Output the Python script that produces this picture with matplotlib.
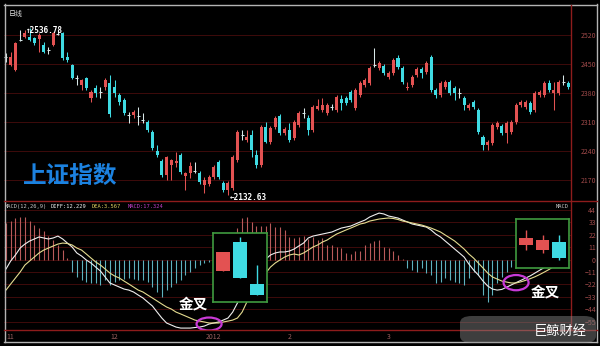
import numpy as np
import matplotlib
matplotlib.use("Agg")
import matplotlib.pyplot as plt
from matplotlib.patches import Ellipse, FancyBboxPatch
from matplotlib.lines import Line2D

plt.rcParams['font.family'] = ['Noto Sans CJK SC', 'DejaVu Sans']

# -----------------------------
# daily candles (Shanghai Composite, Nov 2011 - Apr 2012)
# -----------------------------
opens = [2467, 2448, 2436, 2508, 2515, 2515, 2513, 2510, 2496, 2484,
         2496, 2523, 2525, 2467, 2448, 2416, 2399, 2416, 2368, 2392,
         2382, 2394, 2404, 2394, 2375, 2363, 2327, 2327, 2325, 2315,
         2310, 2286, 2240, 2216, 2182, 2206, 2211, 2230, 2180, 2187,
         2192, 2187, 2158, 2160, 2177, 2213, 2163, 2146, 2151, 2218,
         2279, 2267, 2279, 2230, 2206, 2298, 2262, 2298, 2324, 2283,
         2291, 2271, 2303, 2332, 2320, 2291, 2341, 2339, 2332, 2346,
         2339, 2365, 2368, 2382, 2344, 2375, 2399, 2404, 2448, 2440,
         2445, 2419, 2428, 2464, 2440, 2392, 2399, 2423, 2438, 2431,
         2467, 2387, 2375, 2394, 2407, 2392, 2380, 2368, 2344, 2358,
         2339, 2274, 2254, 2259, 2298, 2300, 2283, 2286, 2310, 2351,
         2346, 2356, 2339, 2375, 2375, 2404, 2380, 2380, 2407, 2404]
closes = [2467, 2467, 2501, 2508, 2525, 2508, 2501, 2520, 2479, 2484,
          2525, 2523, 2464, 2460, 2416, 2416, 2411, 2392, 2382, 2380,
          2382, 2411, 2330, 2380, 2358, 2332, 2327, 2334, 2325, 2315,
          2291, 2247, 2230, 2182, 2226, 2218, 2216, 2189, 2187, 2204,
          2192, 2165, 2170, 2177, 2201, 2177, 2146, 2163, 2226, 2286,
          2279, 2274, 2242, 2206, 2298, 2262, 2295, 2320, 2283, 2293,
          2267, 2310, 2332, 2332, 2291, 2346, 2349, 2351, 2351, 2346,
          2370, 2356, 2356, 2363, 2387, 2404, 2411, 2440, 2448, 2452,
          2428, 2428, 2460, 2443, 2407, 2394, 2419, 2438, 2428, 2452,
          2387, 2375, 2404, 2407, 2380, 2380, 2380, 2351, 2351, 2346,
          2286, 2254, 2262, 2303, 2308, 2283, 2308, 2310, 2351, 2358,
          2358, 2334, 2380, 2382, 2404, 2387, 2387, 2407, 2407, 2394]
highs = [2477, 2479, 2503, 2532, 2532, 2536.78, 2515, 2525, 2503, 2491,
         2527, 2532, 2527, 2479, 2450, 2423, 2413, 2419, 2387, 2399,
         2394, 2416, 2423, 2411, 2380, 2368, 2334, 2339, 2346, 2332,
         2315, 2291, 2254, 2221, 2228, 2220, 2238, 2235, 2189, 2213,
         2213, 2192, 2177, 2182, 2206, 2218, 2168, 2168, 2230, 2291,
         2291, 2291, 2291, 2242, 2303, 2310, 2300, 2324, 2329, 2298,
         2308, 2315, 2337, 2344, 2327, 2351, 2365, 2368, 2356, 2353,
         2375, 2375, 2373, 2387, 2392, 2409, 2416, 2445, 2489, 2457,
         2450, 2433, 2464, 2472, 2445, 2407, 2423, 2443, 2443, 2457,
         2472, 2392, 2409, 2411, 2411, 2397, 2392, 2373, 2356, 2363,
         2344, 2279, 2267, 2308, 2312, 2305, 2312, 2315, 2356, 2363,
         2363, 2361, 2385, 2387, 2409, 2411, 2407, 2411, 2423, 2409]
lows = [2455, 2445, 2433, 2506, 2513, 2506, 2496, 2479, 2477, 2474,
        2494, 2520, 2460, 2455, 2414, 2399, 2387, 2387, 2358, 2370,
        2368, 2387, 2322, 2370, 2351, 2327, 2308, 2320, 2303, 2308,
        2286, 2242, 2226, 2177, 2170, 2170, 2201, 2184, 2146, 2175,
        2187, 2160, 2139, 2155, 2172, 2172, 2141, 2132.63, 2146, 2213,
        2267, 2262, 2226, 2199, 2201, 2259, 2257, 2293, 2279, 2279,
        2262, 2267, 2298, 2320, 2279, 2286, 2339, 2334, 2327, 2339,
        2334, 2339, 2351, 2358, 2339, 2370, 2394, 2399, 2443, 2436,
        2423, 2414, 2423, 2438, 2402, 2387, 2394, 2419, 2416, 2426,
        2382, 2368, 2370, 2390, 2375, 2363, 2368, 2339, 2339, 2341,
        2281, 2242, 2242, 2254, 2293, 2279, 2259, 2281, 2305, 2346,
        2341, 2329, 2334, 2370, 2370, 2382, 2339, 2375, 2399, 2390]

# MACD(12,26,9) panel
macd_hist = [32, 34, 36.5, 38, 38, 34, 31, 28, 25, 21, 17, 13, 8.4, 1,
             -11.1, -15.5, -18.2, -19.7, -20.8, -20.8, -22.6, -18.2, -22.6, -19.7,
             -18.2, -17.3, -16.4, -17.3, -18.2, -18.2, -19.7, -24.4, -28.8, -33.3,
             -27.1, -24.4, -20.8, -18.2, -13.7, -11.1, -7.5, -4.9, -3.1,
             -2.5, -1, 1, 3, 5, 9, 28, 37, 38, 33, 30, 30, 30,
             32.4, 28.8, 28.8, 26.2, 20, 19.1,
             20, 21, 18, 20, 17, 19, 13, 13, 11, 10, 6, 5, 8, 8, 13, 15, 16, 17,
             11, 10, 8, 4, 0.5,
             -7.5, -9.3, -11.1, -7.5, -12.0, -13.7, -20.8, -19.7, -16.4, -18.2,
             -20.0, -20.8, -22.6, -16.4, -11.1, -13.7, -31.5, -37.7, -31.5, -20.8,
             -15.5, -11.1, -6.7, -3.1,
             1, 3, 5, 7, 8, 9, 11, 12, 14, 16, 17.324]
diff = [-8.4, -1.3, 4.0, 10.2, 13.7, 16.4, 18.2, 20.0, 19.1, 18.2,
        19.1, 20.8, 18.2, 14.6, 11.1, 5.8, 3.1, -0.4, -3.1, -6.7,
        -10.2, -15.5, -20.8, -22.6, -24.4, -26.2, -27.1, -28.8, -31.5, -34.1,
        -37.7, -41.2, -46.6, -51.9, -56.3, -58.1, -59.9, -60.8, -60.8, -60.8,
        -60.3, -59.9, -59.0, -57.2, -56.3, -55.4, -53.7, -51.9, -46.6, -38.6,
        -30.6, -22.6, -15.5, -9.3, -4.0, 0.4, 4.0, 5.8, 6.7, 6.7,
        7.5, 9.3, 12.0, 14.6, 19.1, 20.8, 21.7, 22.6, 23.5, 24.4,
        26.2, 27.9, 28.8, 29.7, 31.5, 33.3, 35.0, 37.7, 39.5, 41.2,
        40.4, 38.6, 37.7, 36.8, 35.0, 33.3, 31.5, 30.6, 29.7, 28.8,
        26.2, 22.6, 20.0, 16.4, 12.9, 9.3, 5.8, 2.2, -4.0, -9.3,
        -13.7, -19.1, -23.5, -26.2, -27.1, -26.5, -24.5, -22.5, -20.5, -18.5,
        -16.5, -14.5, -12.0, -9.5, -7.0, -4.5, -1.0, 3.0, 8.0, 12.229]
dea = [-27.1, -21.7, -16.4, -11.1, -4.9, -1.3, 2.2, 5.8, 8.4, 10.2,
       12.0, 13.7, 14.6, 14.2, 12.9, 10.2, 8.4, 4.9, 1.3, -2.2,
       -4.9, -8.4, -12.0, -14.6, -16.4, -19.1, -21.7, -24.4, -27.1, -28.8,
       -31.5, -34.1, -36.8, -39.5, -42.1, -43.9, -46.6, -48.3, -50.1, -51.9,
       -53.7, -54.6, -55.4, -56.3, -56.3, -56.3, -55.4, -54.6, -53.7, -51.9,
       -46.6, -37.7, -29.7, -22.6, -17.3, -12.0, -6.7, -3.1, -0.4, 2.2,
       4.0, 4.9, 4.0, 5.8, 8.4, 11.1, 12.9, 15.5, 17.3, 20.0,
       22.6, 24.4, 26.2, 27.9, 29.7, 31.5, 32.4, 34.1, 35.0, 35.9,
       36.4, 36.8, 36.4, 35.5, 34.1, 33.3, 32.4, 31.5, 30.6, 29.3,
       27.9, 26.2, 24.4, 21.7, 19.1, 16.4, 12.9, 9.3, 4.9, 1.3,
       -3.1, -7.5, -12.0, -15.5, -17.3, -19.1, -20.0, -20.8, -20.8, -19.8,
       -18.5, -17.0, -15.3, -13.3, -11.1, -8.8, -6.0, -2.5, 0.8, 3.567]

golden_cross = [43, 108]          # candle index of the two crossings
price_ticks = [2170, 2240, 2310, 2380, 2450, 2520]
macd_ticks = [44, 33, 22, 11, 0, -11, -22, -33, -44, -55]
month_pos = [1, 23, 44, 60, 81]
month_lbl = ["11", "12", "2012", "2", "3"]

# the two illustrative candle groups in the green boxes (arbitrary scale 0-100)
box1_o = [45, 87, 26]
box1_c = [72.5, 35, 10]
box1_h = [72.5, 94, 54]
box1_l = [45, 35, 10]
box2_o = [47, 37, 53]
box2_c = [61, 57, 20]
box2_h = [77.5, 67, 67]
box2_l = [37, 31, 16]

# -----------------------------
# styling
# -----------------------------
RED = "#e35252"
CYAN = "#3fdbe3"
DOJI = "#d8e8e8"
GRID = "#3e0b0b"
SEP = "#8e1c1c"
TICK = "#a04a4a"
FRAME = "#b4b4b4"

W, H = 600, 346
def fx(x):
    return x / W
def fy(y):
    return 1 - y / H

XL = (-0.42, 119.63)
n = len(opens)
idx = np.arange(n)

fig = plt.figure(figsize=(6, 3.46), dpi=100, facecolor="black")


def draw_candles(a, o_, c_, h_, l_, bw=0.64, lw=0.75):
    for i in range(len(o_)):
        o, c, h, l = o_[i], c_[i], h_[i], l_[i]
        col = RED if c > o else (CYAN if c < o else DOJI)
        a.vlines(i, l, h, color=col, lw=lw)
        if c == o:
            a.hlines(o, i - bw / 2, i + bw / 2, color=col, lw=lw)
        else:
            a.bar(i, abs(c - o), bottom=min(o, c), width=bw, color=col, lw=0)


def style_axes(a, ticks, ylim):
    a.set_facecolor("black")
    a.set_xlim(*XL)
    a.set_ylim(*ylim)
    a.yaxis.tick_right()
    a.set_yticks(ticks)
    a.tick_params(axis="y", length=0, pad=18, labelsize=5.0, labelcolor=TICK)
    for lbl in a.get_yticklabels():
        lbl.set_ha("right")
    a.grid(axis="y", color=GRID, lw=0.7)
    a.set_axisbelow(True)
    for s in a.spines.values():
        s.set_visible(False)


# -----------------------------
# price panel
# -----------------------------
ax = fig.add_axes([fx(4), fy(201), fx(571) - fx(4), fy(5) - fy(201)])
style_axes(ax, price_ticks, (2119, 2592))
ax.set_xticks([])
draw_candles(ax, opens, closes, highs, lows)

hi_i = int(np.argmax(highs))
lo_i = int(np.argmin(lows))
ax.annotate(f"↑{highs[hi_i]:.2f}", (hi_i, highs[hi_i]), xytext=(-3, -2),
            textcoords="offset points", color="white", fontsize=5.6,
            family="DejaVu Sans Mono", fontweight="bold", ha="left", va="center")
ax.annotate(f"←{lows[lo_i]:.2f}", (lo_i, lows[lo_i]), xytext=(1.5, -1.2),
            textcoords="offset points", color="white", fontsize=5.6,
            family="DejaVu Sans Mono", fontweight="bold", ha="left", va="center")

ax.text(0.008, 0.975, "日线", transform=ax.transAxes, color="#e0e0e0",
        fontsize=5, va="top", ha="left")
ax.text(0.117, 0.13, "上证指数", transform=ax.transAxes, color="#1c82e0",
        fontsize=17, fontweight="heavy", ha="center", va="center")

# -----------------------------
# MACD panel
# -----------------------------
ax2 = fig.add_axes([fx(4), fy(330), fx(571) - fx(4), fy(201) - fy(330)])
style_axes(ax2, macd_ticks, (-62.5, 51.9))
hist_cols = ["#b85a5a" if v > 0 else "#5fb2be" for v in macd_hist]
ax2.vlines(idx, 0, macd_hist, colors=hist_cols, lw=0.8)
ax2.plot(idx, diff, color="#eeeeee", lw=0.8)
ax2.plot(idx, dea, color="#e4dc90", lw=0.8)

ax2.set_xticks(month_pos)
ax2.set_xticklabels(month_lbl)
ax2.tick_params(axis="x", length=0, pad=2.5, labelsize=5, labelcolor="#9a6060")

for k, ci in enumerate(golden_cross):
    ax2.add_patch(Ellipse((ci, diff[ci]), 5.3, 11.5 + 2 * k, fill=False,
                          ec="#c83ad6", lw=1.6, zorder=6))
ax2.annotate("金叉", (golden_cross[0], diff[golden_cross[0]]), xytext=(-11.5, 15),
             textcoords="offset points", color="white", fontsize=10.5,
             fontweight="bold", ha="center", va="center")
ax2.annotate("金叉", (golden_cross[1], diff[golden_cross[1]]), xytext=(21, -6.5),
             textcoords="offset points", color="white", fontsize=10.5,
             fontweight="bold", ha="center", va="center")

# header of MACD panel
hy = fy(206.5)
fig.text(fx(5), hy, "MACD(12,26,9)", color="#c8c8c8", fontsize=3.9,
         family="DejaVu Sans Mono", va="center")
fig.text(fx(51), hy, "DIFF:12.229", color="#f0f0f0", fontsize=3.9,
         family="DejaVu Sans Mono", va="center")
fig.text(fx(92), hy, "DEA:3.567", color="#e0d060", fontsize=3.9,
         family="DejaVu Sans Mono", va="center")
fig.text(fx(128), hy, "MACD:17.324", color="#c040c8", fontsize=3.9,
         family="DejaVu Sans Mono", va="center")
fig.text(fx(569), hy, "MACD", color="#c8c8c8", fontsize=3.9,
         family="DejaVu Sans Mono", va="center", ha="right")

# -----------------------------
# green boxes with sample candles
# -----------------------------
for rect, data in [((213, 233, 267, 302), (box1_o, box1_c, box1_h, box1_l)),
                   ((516, 219, 569, 268), (box2_o, box2_c, box2_h, box2_l))]:
    x0, y0, x1, y1 = rect
    bx = fig.add_axes([fx(x0), fy(y1), fx(x1) - fx(x0), fy(y0) - fy(y1)], zorder=5)
    bx.set_facecolor("black")
    bx.set_xlim(-0.6, 2.6)
    bx.set_ylim(0, 100)
    bx.set_xticks([])
    bx.set_yticks([])
    for s in bx.spines.values():
        s.set_color("#3f9a3f")
        s.set_linewidth(1.2)
    draw_candles(bx, *data, bw=0.8, lw=1.0)

# -----------------------------
# frame and separators
# -----------------------------
def fline(x0, y0, x1, y1, color, lw=1.0):
    fig.add_artist(Line2D([fx(x0), fx(x1)], [fy(y0), fy(y1)], color=color,
                          lw=lw, transform=fig.transFigure, zorder=8))

fline(4, 4.5, 597, 4.5, FRAME)
fline(4.5, 4, 4.5, 342, FRAME)
fline(597, 4, 597, 342, FRAME)
fline(4, 342, 597, 342, FRAME)
fline(571, 5, 571, 330, SEP)
fline(4, 201, 597, 201, SEP)
fline(4, 330, 597, 330, SEP)

# watermark
fig.add_artist(FancyBboxPatch((fx(460), fy(343)), fx(136), 27 / H,
                              boxstyle="round,pad=0,rounding_size=0.02",
                              transform=fig.transFigure, fc="#8a8a8a",
                              ec="none", alpha=0.45, zorder=9))
fig.text(fx(560), fy(331), "巨鲸财经", color="white", fontsize=9.5,
         ha="center", va="center", zorder=10)

fig.savefig("out.png", dpi=100, facecolor="black")
